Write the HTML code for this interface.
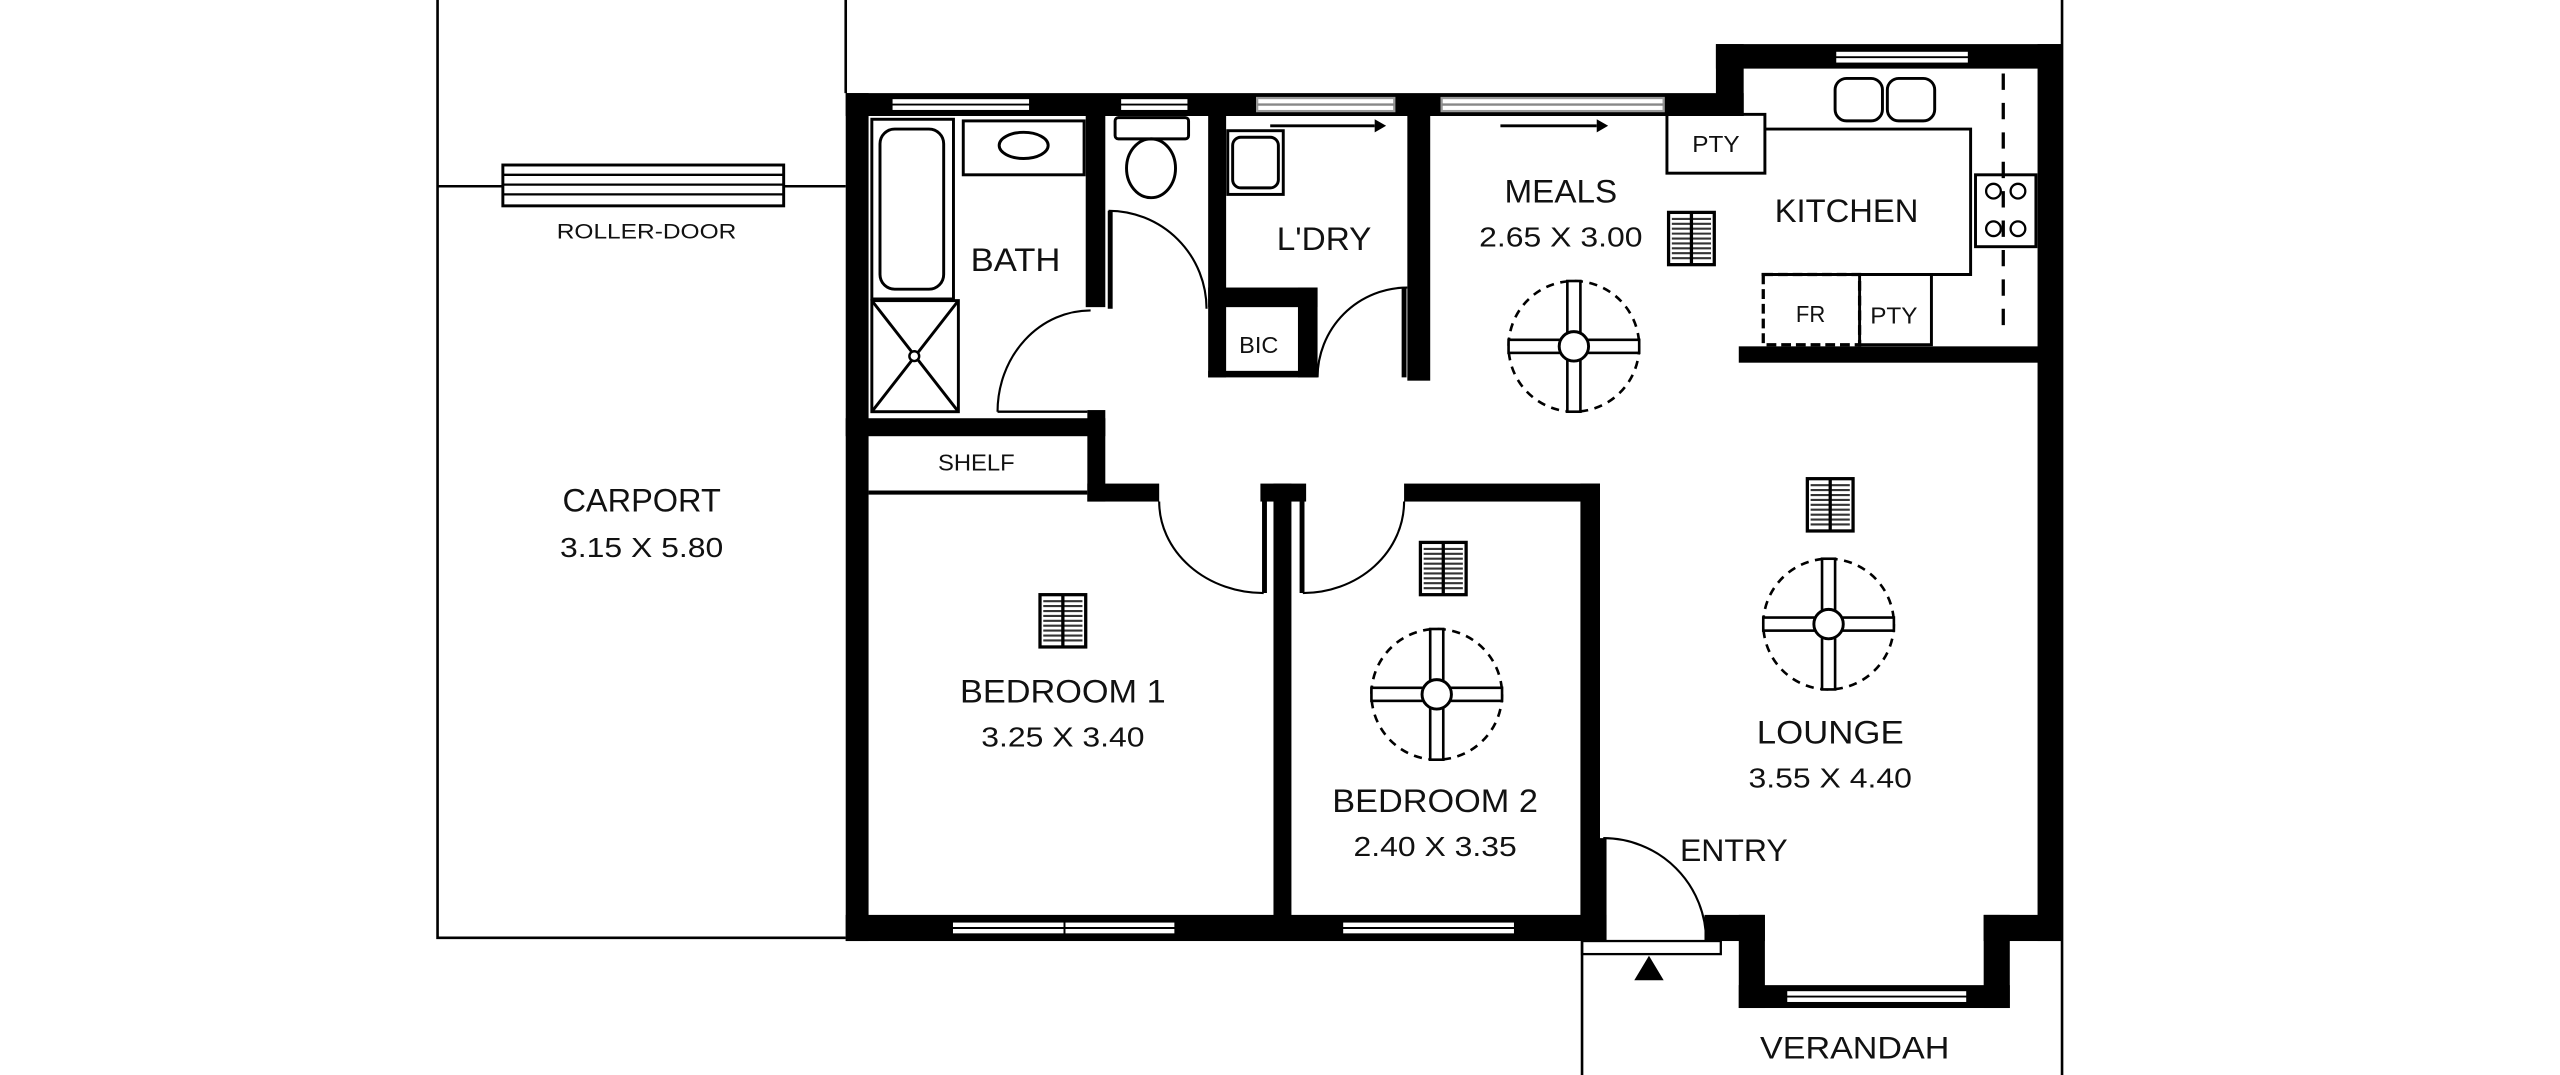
<!DOCTYPE html>
<html><head><meta charset="utf-8"><style>html,body{margin:0;padding:0;background:#fff;overflow:hidden}svg{display:block}text{font-family:"Liberation Sans Narrow","Liberation Sans",sans-serif;fill:#111}</style></head><body>
<svg width="2560" height="1075" viewBox="0 0 1568 658" preserveAspectRatio="none" xmlns="http://www.w3.org/2000/svg">
<defs>
<g id="fan"><circle r="40" fill="none" stroke="#000" stroke-width="1.6" stroke-dasharray="5,4"/>
<rect x="-4" y="-40" width="8" height="80" fill="#fff" stroke="#000" stroke-width="1.6"/>
<rect x="-40" y="-4" width="80" height="8" fill="#fff" stroke="#000" stroke-width="1.6"/>
<rect x="-2.5" y="-39" width="5" height="78" fill="#fff"/><rect x="-39" y="-2.5" width="78" height="5" fill="#fff"/>
<circle r="9" fill="#fff" stroke="#000" stroke-width="1.8"/></g>
<g id="vent"><rect x="0" y="0" width="28" height="32" fill="#fff" stroke="#000" stroke-width="2"/>
<path d="M2 4H26M2 7H26M2 10H26M2 13H26M2 16H26M2 19H26M2 22H26M2 25H26M2 28H26" stroke="#333" stroke-width="1.3"/>
<path d="M14 0V32" stroke="#000" stroke-width="2"/></g>
</defs>
<g stroke="#000" stroke-width="1.6" fill="none">
<path d="M268 0V574H518M518 0V57M1263 0V658M969 576V658"/>
<path d="M268 114H518"/>
</g>
<rect x="308" y="101" width="172" height="25" fill="#fff" stroke="#000" stroke-width="1.8"/>
<path d="M308 107H480M308 113H480M308 119H480" stroke="#000" stroke-width="1.4"/>
<g fill="#000">
<rect x="518" y="57" width="14" height="519"/>
<rect x="518" y="57" width="550" height="14"/>
<rect x="1051" y="27" width="17" height="44"/>
<rect x="1051" y="27" width="212" height="15"/>
<rect x="1248" y="27" width="15" height="549"/>
<rect x="518" y="560" width="466" height="16"/>
<rect x="1044" y="560" width="37" height="16"/>
<rect x="1065" y="560" width="16" height="57"/>
<rect x="1065" y="603" width="166" height="14"/>
<rect x="1215" y="560" width="16" height="57"/>
<rect x="1215" y="560" width="48" height="16"/>
<rect x="665" y="71" width="12" height="117"/>
<rect x="740" y="71" width="11" height="160"/>
<rect x="740" y="176" width="67" height="12"/>
<rect x="795" y="176" width="12" height="55"/>
<rect x="740" y="227" width="67" height="4"/>
<rect x="862" y="71" width="14" height="162"/>
<rect x="518" y="256" width="159" height="11"/>
<rect x="666" y="251" width="11" height="56"/>
<rect x="666" y="296" width="44" height="11"/>
<rect x="772" y="296" width="28" height="11"/>
<rect x="780" y="296" width="11" height="266"/>
<rect x="860" y="296" width="120" height="11"/>
<rect x="968" y="296" width="12" height="280"/>
<rect x="1065" y="212" width="185" height="10"/>
</g>
<path d="M611 252H666" stroke="#000" stroke-width="1.5"/>
<!-- windows -->
<g fill="#fff" stroke="#000" stroke-width="1.4">
<rect x="546" y="60" width="85" height="8"/><rect x="686" y="60" width="42" height="8"/>
<rect x="770" y="60" width="84" height="8" stroke="#999"/><rect x="883" y="60" width="136" height="8" stroke="#999"/>
<rect x="1124" y="31" width="82" height="8"/>
<rect x="583" y="564" width="137" height="8"/><rect x="822" y="564" width="106" height="8"/>
<rect x="1094" y="606" width="111" height="8"/>
</g>
<path d="M546 64H631M686 64H728M583 568H720M652 564V572M822 568H928M1124 35H1206M1094 610H1205" stroke="#000" stroke-width="1.2"/>
<path d="M770 64H812M812 64H854M883 64H951M951 64H1019" stroke="#888" stroke-width="1.5"/>
<path d="M778 77H842M919 77H978" stroke="#000" stroke-width="1.8"/>
<path d="M842 73L849 77L842 81ZM978 73L985 77L978 81Z" fill="#000"/>
<!-- fixtures -->
<g fill="none" stroke="#000" stroke-width="1.8">
<rect x="534" y="73" width="50" height="110"/>
<rect x="539" y="79" width="39" height="98" rx="9"/>
<rect x="534" y="184" width="53" height="68"/>
<path d="M534 184L587 252M587 184L534 252"/>
<rect x="590" y="74" width="74" height="33"/>
<ellipse cx="627" cy="89" rx="15" ry="8"/>
<rect x="683" y="72" width="45" height="13" rx="2"/>
<ellipse cx="705" cy="103" rx="15" ry="18"/>
<rect x="752" y="80" width="34" height="39"/>
<rect x="755" y="84" width="28" height="31" rx="5"/>
<rect x="1021" y="70" width="60" height="36"/>
<path d="M1081 79H1207V168H1079"/>
<rect x="1124" y="48" width="29" height="26" rx="7"/><rect x="1156" y="48" width="29" height="26" rx="7"/>
<rect x="1210" y="107" width="37" height="44"/>
<rect x="1139" y="168" width="44" height="43"/>
<path d="M532 301.5H666" stroke-width="2.5"/>
<rect x="969" y="576" width="85" height="8" stroke-width="1.4"/>
</g>
<circle cx="560" cy="218" r="3" fill="#fff" stroke="#000" stroke-width="1.5"/>
<g fill="none" stroke="#000" stroke-width="1.4">
<circle cx="1221" cy="117" r="4.5"/><circle cx="1236" cy="117" r="4.5"/><circle cx="1221" cy="140" r="4.5"/><circle cx="1236" cy="140" r="4.5"/>
</g>
<rect x="1080" y="168" width="59" height="43" fill="none" stroke="#000" stroke-width="2" stroke-dasharray="6,3"/>
<path d="M1227 45V206" stroke="#000" stroke-width="2" stroke-dasharray="10,8"/>
<!-- doors -->
<g fill="none" stroke="#000" stroke-width="1.3">
<path d="M611 252A57 62 0 0 1 668 190"/>
<path d="M679 129A60 60 0 0 1 739 189"/><path d="M680 129V189" stroke-width="3"/>
<path d="M807 231A55 55 0 0 1 862 176"/><path d="M860 176V231" stroke-width="3"/>
<path d="M710 307A64 56 0 0 0 774 363"/><path d="M774.5 307V363" stroke-width="3"/>
<path d="M798 363A62 56 0 0 0 860 307"/><path d="M797.5 307V363" stroke-width="3"/>
<path d="M982 513A63 63 0 0 1 1045 576"/><path d="M982 513V576" stroke-width="4"/>
</g>
<path d="M1010 585L1019 600H1001Z" fill="#000"/>
<use href="#fan" x="964" y="212"/><use href="#fan" x="880" y="425"/><use href="#fan" x="1120" y="382"/>
<use href="#vent" x="1022" y="130"/><use href="#vent" x="637" y="364"/><use href="#vent" x="870" y="332"/><use href="#vent" x="1107" y="293"/>
<!-- labels -->
<g text-anchor="middle" font-size="20">
<text x="393" y="313" textLength="97" lengthAdjust="spacingAndGlyphs">CARPORT</text>
<text x="393" y="341" font-size="17" textLength="100" lengthAdjust="spacingAndGlyphs">3.15 X 5.80</text>
<text x="622" y="166" textLength="55" lengthAdjust="spacingAndGlyphs">BATH</text>
<text x="811" y="153" textLength="58" lengthAdjust="spacingAndGlyphs">L'DRY</text>
<text x="956" y="124" textLength="69" lengthAdjust="spacingAndGlyphs">MEALS</text>
<text x="956" y="151" font-size="17" textLength="100" lengthAdjust="spacingAndGlyphs">2.65 X 3.00</text>
<text x="1131" y="136" textLength="88" lengthAdjust="spacingAndGlyphs">KITCHEN</text>
<text x="651" y="430" textLength="126" lengthAdjust="spacingAndGlyphs">BEDROOM 1</text>
<text x="651" y="457" font-size="17" textLength="100" lengthAdjust="spacingAndGlyphs">3.25 X 3.40</text>
<text x="879" y="497" textLength="126" lengthAdjust="spacingAndGlyphs">BEDROOM 2</text>
<text x="879" y="524" font-size="17" textLength="100" lengthAdjust="spacingAndGlyphs">2.40 X 3.35</text>
<text x="1121" y="455" textLength="90" lengthAdjust="spacingAndGlyphs">LOUNGE</text>
<text x="1121" y="482" font-size="17" textLength="100" lengthAdjust="spacingAndGlyphs">3.55 X 4.40</text>
<text x="1062" y="527" font-size="19" textLength="66" lengthAdjust="spacingAndGlyphs">ENTRY</text>
<text x="1136" y="648" font-size="19" textLength="116" lengthAdjust="spacingAndGlyphs">VERANDAH</text>
<g font-size="14">
<text x="396" y="146" font-size="13" textLength="110" lengthAdjust="spacingAndGlyphs">ROLLER-DOOR</text>
<text x="771" y="216" textLength="24" lengthAdjust="spacingAndGlyphs">BIC</text>
<text x="598" y="288" textLength="47" lengthAdjust="spacingAndGlyphs">SHELF</text>
<text x="1051" y="93" textLength="29" lengthAdjust="spacingAndGlyphs">PTY</text>
<text x="1109" y="197" textLength="18" lengthAdjust="spacingAndGlyphs">FR</text>
<text x="1160" y="198" textLength="29" lengthAdjust="spacingAndGlyphs">PTY</text>
</g></g>
</svg>
</body></html>
